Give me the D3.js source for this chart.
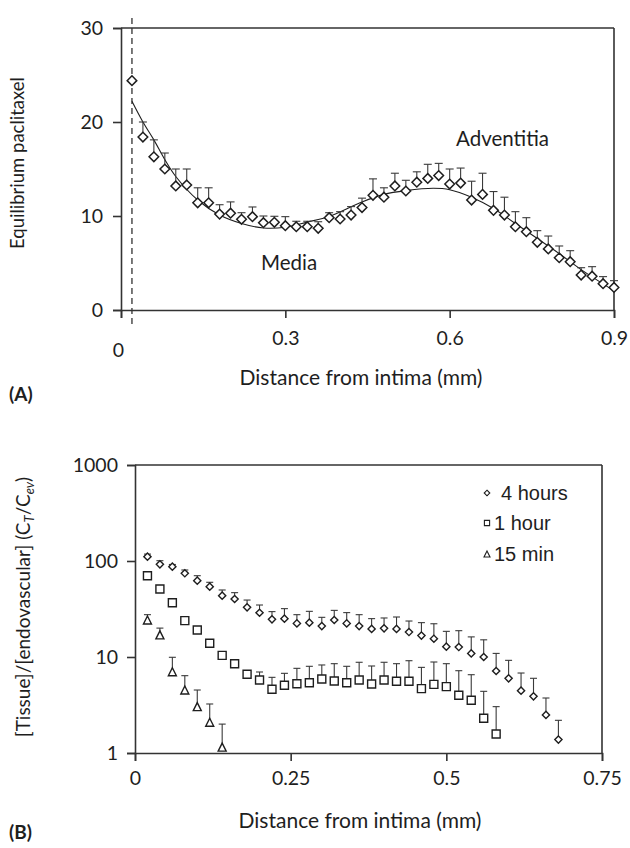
<!DOCTYPE html>
<html><head><meta charset="utf-8">
<script src="https://cdn.jsdelivr.net/npm/d3@7"></script>
<style>body{margin:0;background:#fff} svg{display:block}</style>
</head><body>
<svg id="c" width="630" height="848"></svg>
<script>
// ---------- Panel A data ----------
const aTicksX = [0, 0.3, 0.6, 0.9];
const aTicksY = [0, 10, 20, 30];
const aDist = [0.02,0.04,0.06,0.08,0.10,0.12,0.14,0.16,0.18,0.20,0.22,0.24,0.26,0.28,0.30,0.32,0.34,0.36,0.38,0.40,0.42,0.44,0.46,0.48,0.50,0.52,0.54,0.56,0.58,0.60,0.62,0.64,0.66,0.68,0.70,0.72,0.74,0.76,0.78,0.80,0.82,0.84,0.86,0.88,0.90];
const aMean = [24.4,18.4,16.3,15.0,13.2,13.3,11.4,11.4,10.2,10.3,9.65,9.93,9.29,9.33,8.97,8.86,8.86,8.69,9.82,9.68,10.1,10.9,12.2,12.0,13.2,12.66,13.6,14.0,14.3,13.4,13.5,11.7,12.3,10.6,10.1,8.86,8.33,7.2,6.5,5.56,5.14,3.72,3.6,2.8,2.4];
const aUpper = [null,20.0,18.1,16.7,15.0,15.0,13.0,13.0,11.2,11.5,10.35,10.96,10.0,9.97,9.93,9.44,9.44,9.39,10.35,10.46,11.0,11.9,13.95,13.0,14.55,13.8,14.7,15.5,15.6,15.0,15.1,13.7,14.55,12.6,12.0,10.46,9.82,8.44,7.87,6.81,6.31,4.5,4.61,3.55,3.12];
const aFitDist = [0.02,0.04,0.06,0.08,0.10,0.14,0.18,0.22,0.26,0.30,0.34,0.38,0.44,0.48,0.52,0.57,0.60,0.64,0.68,0.72,0.76,0.80,0.84,0.90];
const aFitVal  = [22.2,20.0,18.1,16.0,14.2,11.7,10.1,9.2,8.72,8.8,9.35,9.95,11.5,12.3,12.7,12.95,12.8,12.0,10.8,9.2,7.6,6.0,4.3,2.05];
const aIntimaLine = 0.02;

// ---------- Panel B data ----------
const bTicksX = [0, 0.25, 0.5, 0.75];
const bTicksY = [1, 10, 100, 1000];
const bSeries = ["4 hours", "1 hour", "15 min"];
const b4Dist = [0.02,0.04,0.06,0.08,0.10,0.12,0.14,0.16,0.18,0.20,0.22,0.24,0.26,0.28,0.30,0.32,0.34,0.36,0.38,0.40,0.42,0.44,0.46,0.48,0.50,0.52,0.54,0.56,0.58,0.60,0.62,0.64,0.66,0.68];
const b4Mean = [111,92.4,87.2,74.5,62.4,54.0,43.5,40.2,32.9,28.9,24.7,25.1,22.4,22.8,21.0,24.3,22.4,21.0,19.6,19.9,19.6,18.2,16.7,15.5,12.8,12.7,10.9,10.0,7.15,6.0,4.46,3.89,2.49,1.38];
const b4Upper = [118,100.7,92,80.6,70.3,60,49.9,46.8,39.2,34.8,29.7,31.9,27.6,29.9,25.9,30.6,29.0,27.6,25.1,25.5,26.1,23.7,22.8,22.2,18.5,18.8,16.2,15.1,10.9,9.23,6.81,6.0,3.74,2.19];
const b1Dist = [0.02,0.04,0.06,0.08,0.10,0.12,0.14,0.16,0.18,0.20,0.22,0.24,0.26,0.28,0.30,0.32,0.34,0.36,0.38,0.40,0.42,0.44,0.46,0.48,0.50,0.52,0.54,0.56,0.58];
const b1Mean = [70.3,51.1,36.8,23.9,19.1,13.9,10.4,8.52,6.6,5.76,4.61,5.07,5.27,5.4,5.9,5.62,5.4,5.76,5.24,5.76,5.58,5.58,4.68,5.19,4.91,3.99,3.54,2.30,1.58];
const b1Upper = [null,null,null,null,null,null,null,null,null,6.98,6.14,6.76,7.62,8.0,8.26,8.52,8.0,8.81,8.06,8.81,8.52,9.15,7.8,8.87,8.52,7.2,6.54,4.39,3.04];
const b15Dist = [0.02,0.04,0.06,0.08,0.10,0.12,0.14];
const b15Mean = [24.3,17.0,7.03,4.53,3.04,2.09,1.15];
const b15Upper = [27.6,20.0,9.93,6.39,4.53,3.24,2.0];

// ---------- drawing ----------
const svg = d3.select('#c');
const FONT = 'Lato, "Open Sans", sans-serif';
const INK = '#1e1e1e';
const AX = '#333';

function diamond(cx, cy, r) { return `M${cx},${cy-r}L${cx+r},${cy}L${cx},${cy+r}L${cx-r},${cy}Z`; }
function square(cx, cy, r) { return `M${cx-r},${cy-r}h${2*r}v${2*r}h${-2*r}Z`; }
function triangle(cx, cy, r) { return `M${cx},${cy-r}L${cx+r},${cy+r}L${cx-r},${cy+r}Z`; }

function styleAxis(g, fs) {
  g.select('.domain').attr('stroke', AX).attr('stroke-width', 1.6);
  g.selectAll('.tick line').attr('stroke', AX).attr('stroke-width', 1.6);
  g.selectAll('.tick text').attr('fill', INK).style('font-family', FONT).style('font-size', fs + 'px');
}

function errorBars(g, xs, ys, ups, x, y, cap, color, width) {
  xs.forEach((d, i) => {
    if (ups[i] == null) return;
    const cx = x(d), y0 = y(ys[i]), y1 = y(ups[i]);
    g.append('line').attr('x1', cx).attr('x2', cx).attr('y1', y0).attr('y2', y1)
      .attr('stroke', color).attr('stroke-width', width);
    g.append('line').attr('x1', cx - cap).attr('x2', cx + cap).attr('y1', y1).attr('y2', y1)
      .attr('stroke', color).attr('stroke-width', width);
  });
}
function markers(g, xs, ys, x, y, shape, r, sw) {
  xs.forEach((d, i) => {
    g.append('path').attr('d', shape(x(d), y(ys[i]), r))
      .attr('fill', '#fff').attr('stroke', INK).attr('stroke-width', sw);
  });
}

// ===== Panel A =====
const xA = d3.scaleLinear().domain([0, 0.9]).range([121, 614]);
const yA = d3.scaleLinear().domain([0, 30]).range([310, 28]);
const gA = svg.append('g');

gA.append('line').attr('x1', xA(0)).attr('x2', xA(0.9)).attr('y1', yA(30)).attr('y2', yA(30)).attr('stroke', AX).attr('stroke-width', 1.6);
gA.append('line').attr('x1', xA(0.9)).attr('x2', xA(0.9)).attr('y1', yA(30)).attr('y2', yA(0)).attr('stroke', AX).attr('stroke-width', 1.6);

const axA_x = gA.append('g').attr('transform', `translate(0,${yA(0)})`)
  .call(d3.axisBottom(xA).tickValues(aTicksX).tickSize(8).tickPadding(13).tickFormat(d => d === 0 ? '0' : d3.format('.1f')(d)));
styleAxis(axA_x, 19.5);
axA_x.selectAll('.tick text').filter(d => d === 0).attr('y', 33).attr('x', -3);

const axA_y = gA.append('g').attr('transform', `translate(${xA(0)},0)`)
  .call(d3.axisLeft(yA).tickValues(aTicksY).tickSize(8).tickPadding(10).tickFormat(d3.format('d')));
styleAxis(axA_y, 19.5);

gA.append('line').attr('x1', xA(aIntimaLine)).attr('x2', xA(aIntimaLine))
  .attr('y1', 18).attr('y2', 324).attr('stroke', '#333').attr('stroke-width', 1.3).attr('stroke-dasharray', '6,4');

const fitLine = d3.line().x(d => xA(d[0])).y(d => yA(d[1])).curve(d3.curveCatmullRom.alpha(0.5));
gA.append('path').attr('d', fitLine(aFitDist.map((d, i) => [d, aFitVal[i]])))
  .attr('fill', 'none').attr('stroke', INK).attr('stroke-width', 1.1);

errorBars(gA, aDist, aMean, aUpper, xA, yA, 4, '#3a3a3a', 1.1);
markers(gA, aDist, aMean, xA, yA, diamond, 4.8, 1.5);

gA.append('text').attr('x', 456).attr('y', 146).text('Adventitia')
  .style('font-family', FONT).style('font-size', '20.5px').attr('fill', INK);
gA.append('text').attr('x', 261).attr('y', 270).text('Media')
  .style('font-family', FONT).style('font-size', '20.5px').attr('fill', INK);

gA.append('text').attr('x', 361).attr('y', 385).attr('text-anchor', 'middle').text('Distance from intima (mm)')
  .style('font-family', FONT).style('font-size', '21px').attr('fill', INK);
gA.append('text').attr('transform', 'translate(24,163) rotate(-90)').attr('text-anchor', 'middle').text('Equilibrium paclitaxel')
  .style('font-family', FONT).style('font-size', '18.5px').attr('fill', INK);
gA.append('text').attr('x', 9).attr('y', 401).text('(A)')
  .style('font-family', FONT).style('font-size', '19px').style('font-weight', 'bold').attr('fill', INK);

// ===== Panel B =====
const xB = d3.scaleLinear().domain([0, 0.75]).range([135, 602]);
const yB = d3.scaleLog().domain([1, 1000]).range([753, 465]);
const gB = svg.append('g');

gB.append('line').attr('x1', xB(0)).attr('x2', xB(0.75)).attr('y1', yB(1000)).attr('y2', yB(1000)).attr('stroke', AX).attr('stroke-width', 1.6);
gB.append('line').attr('x1', xB(0.75)).attr('x2', xB(0.75)).attr('y1', yB(1000)).attr('y2', yB(1)).attr('stroke', AX).attr('stroke-width', 1.6);

const axB_x = gB.append('g').attr('transform', `translate(0,${yB(1)})`)
  .call(d3.axisBottom(xB).tickValues(bTicksX).tickSize(8).tickPadding(10).tickFormat(d => d === 0 ? '0' : String(d)));
styleAxis(axB_x, 19.5);
const axB_y = gB.append('g').attr('transform', `translate(${xB(0)},0)`)
  .call(d3.axisLeft(yB).tickValues(bTicksY).tickSize(8).tickPadding(9).tickFormat(d3.format('d')));
styleAxis(axB_y, 19.5);

errorBars(gB, b15Dist, b15Mean, b15Upper, xB, yB, 3.5, '#3a3a3a', 1.1);
errorBars(gB, b1Dist, b1Mean, b1Upper, xB, yB, 3.5, '#3a3a3a', 1.1);
errorBars(gB, b4Dist, b4Mean, b4Upper, xB, yB, 3.5, '#3a3a3a', 1.1);
markers(gB, b15Dist, b15Mean, xB, yB, triangle, 4, 1.4);
markers(gB, b1Dist, b1Mean, xB, yB, square, 4, 1.4);
markers(gB, b4Dist, b4Mean, xB, yB, diamond, 3.6, 1.4);

const legShapes = [diamond, square, triangle];
const legSym = [2.8, 2.6, 3];
const legY = [500, 530, 561];
const legTextX = [501, 494, 494];
bSeries.forEach((s, i) => {
  gB.append('path').attr('d', legShapes[i](487, legY[i] - 7, legSym[i]))
    .attr('fill', '#fff').attr('stroke', INK).attr('stroke-width', 1.1);
  gB.append('text').attr('x', legTextX[i]).attr('y', legY[i]).text(s)
    .style('font-family', '"Liberation Sans", Arial, sans-serif').style('font-size', '20px').attr('fill', INK);
});

gB.append('text').attr('x', 360).attr('y', 828).attr('text-anchor', 'middle').text('Distance from intima (mm)')
  .style('font-family', FONT).style('font-size', '21px').attr('fill', INK);
const yt = gB.append('text').attr('transform', 'translate(30,607) rotate(-90)').attr('text-anchor', 'middle')
  .style('font-family', FONT).style('font-size', '19px').attr('fill', INK);
yt.append('tspan').text('[Tissue]/[endovascular] (C');
yt.append('tspan').text('T').style('font-style', 'italic').style('font-size', '13px').attr('dy', 4);
yt.append('tspan').text('/C').attr('dy', -4);
yt.append('tspan').text('ev').style('font-style', 'italic').style('font-size', '13px').attr('dy', 4);
yt.append('tspan').text(')').attr('dy', -4);
gB.append('text').attr('x', 9).attr('y', 839).text('(B)')
  .style('font-family', FONT).style('font-size', '19px').style('font-weight', 'bold').attr('fill', INK);
</script>
</body></html>
